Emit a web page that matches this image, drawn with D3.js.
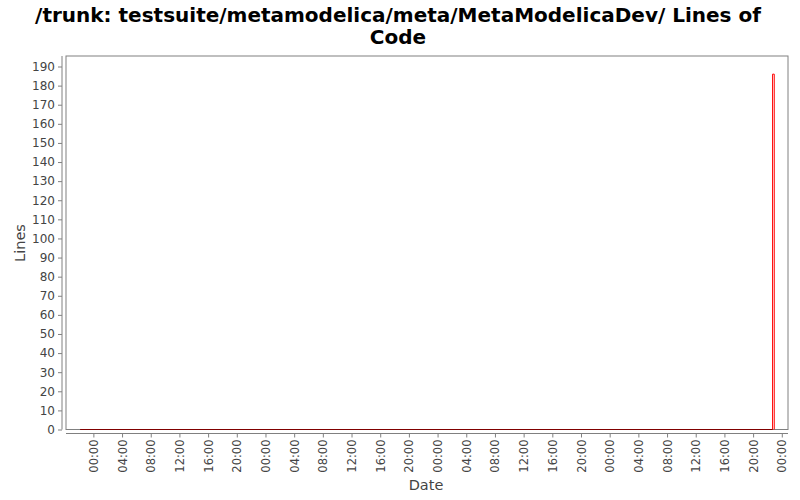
<!DOCTYPE html>
<html><head><meta charset="utf-8">
<script src="https://cdn.jsdelivr.net/npm/d3@7"></script>
<style>
html,body{margin:0;padding:0;background:#fff;}
text{font-family:"DejaVu Sans",sans-serif;}
</style></head>
<body>
<svg id="c" width="800" height="500"></svg>
<script>
const titleLines = ["/trunk: testsuite/metamodelica/meta/MetaModelicaDev/ Lines of", "Code"];
const xLabel = "Date";
const yLabel = "Lines";
const dates = ["2011-04-30T22:09:00Z", "2011-05-04T22:43:00Z", "2011-05-04T22:57:00Z"];
const lines = [0, 186, 186];
const xDomain = ["2011-04-30T20:11:00Z", "2011-05-05T00:52:00Z"];
const yMax = 195.5;
const yTicks = d3.range(0, 191, 10);

const svg = d3.select("#c");
const L = 66, R = 788, T = 56, B = 429.5;
const x = d3.scaleUtc().domain(xDomain.map(d => new Date(d))).range([L, R]);
const y = d3.scaleLinear().domain([0, yMax]).range([B, T]);

svg.append("rect").attr("width", 800).attr("height", 500).attr("fill", "#fff");

// title
const tt = svg.append("text").attr("text-anchor", "middle").attr("font-size", 20)
  .attr("font-weight", "bold").attr("fill", "#000");
titleLines.forEach((t, i) => tt.append("tspan").attr("x", 398).attr("y", 22 + i * 22).text(t));

// plot area
svg.append("rect").attr("x", L).attr("y", T).attr("width", R - L).attr("height", B - T)
  .attr("fill", "#fff").attr("stroke", "#808080").attr("stroke-width", 1);

// y axis
const yAxis = d3.axisLeft(y).tickValues(yTicks).tickSize(4).tickPadding(3);
const gy = svg.append("g").attr("transform", `translate(${L - 4},0)`).call(yAxis);
gy.select(".domain").attr("stroke", "#808080").attr("d", `M0,${T}V${B}`);
gy.selectAll(".tick line").attr("stroke", "#808080");
gy.selectAll(".tick text").attr("font-size", 12).attr("fill", "#444").attr("font-family", "DejaVu Sans");

// x axis
const xAxis = d3.axisBottom(x).ticks(d3.utcHour.every(4)).tickFormat(d3.utcFormat("%H:%M")).tickSize(4);
const gx = svg.append("g").attr("transform", `translate(0,${B + 4})`).call(xAxis);
gx.select(".domain").attr("stroke", "#808080").attr("d", `M${L},0H${R}`);
gx.selectAll(".tick line").attr("stroke", "#808080");
gx.selectAll(".tick text").attr("font-size", 11.5).attr("fill", "#444").attr("font-family", "DejaVu Sans")
  .attr("text-anchor", "end").attr("transform", "translate(0,6) rotate(-90)")
  .attr("x", 0).attr("y", 0).attr("dy", "0.35em");

// axis labels
svg.append("text").attr("x", 426).attr("y", 490).attr("text-anchor", "middle")
  .attr("font-size", 14.5).attr("fill", "#444").text(xLabel);
svg.append("text").attr("transform", "translate(25,243) rotate(-90)").attr("text-anchor", "middle")
  .attr("font-size", 14.5).attr("fill", "#444").text(yLabel);

// data
const pts = dates.map((d, i) => ({t: new Date(d), v: lines[i]}));
svg.append("clipPath").attr("id", "pc").append("rect")
  .attr("x", L).attr("y", T).attr("width", R - L).attr("height", B - T + 1);
const g = svg.append("g").attr("clip-path", "url(#pc)");
// spike (step from point 1 to last point, closed to baseline)
const spike = [{t: pts[1].t, v: 0}, ...pts.slice(1), {t: pts[pts.length - 1].t, v: 0}];
g.append("path").datum(spike)
  .attr("d", d3.line().x(d => x(d.t)).y(d => y(d.v)).curve(d3.curveStepAfter))
  .attr("fill", "none").attr("stroke", "#ff0000").attr("stroke-width", 1);
// baseline step
g.append("path").datum(pts.slice(0, 2).map(d => ({t: d.t, v: pts[0].v})))
  .attr("d", d3.line().x(d => x(d.t)).y(d => y(d.v)).curve(d3.curveStepAfter))
  .attr("fill", "none").attr("stroke", "#800000").attr("stroke-width", 1.2);
</script>
</body></html>
